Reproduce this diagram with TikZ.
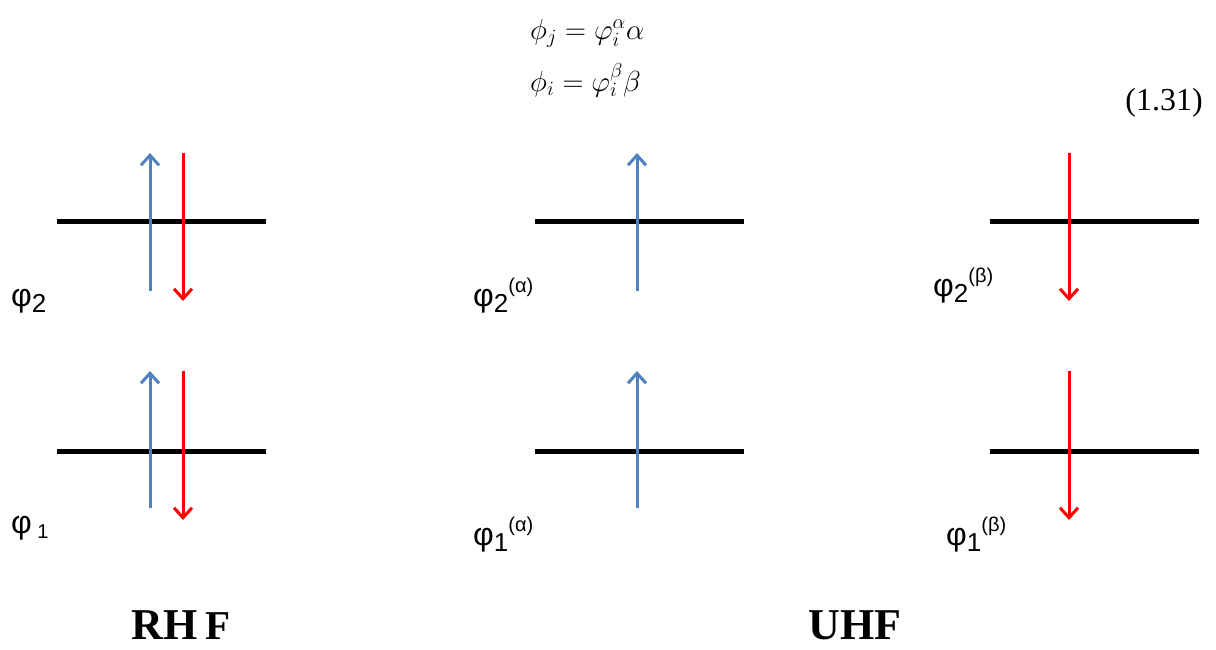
\documentclass[tikz,border=0pt]{standalone}
\usepackage{fontspec}
\usepackage{graphicx}
\setmainfont{Liberation Serif}
\newfontfamily\arialf{Liberation Sans}
\usetikzlibrary{arrows.meta}
\definecolor{spinblue}{RGB}{79,129,189}
\definecolor{spinred}{RGB}{255,0,0}
\tikzset{
  level/.style={line width=5pt, black},
  upspin/.style={line width=3pt, spinblue, -{Straight Barb[length=10pt,width=18pt]}},
  downspin/.style={line width=3pt, spinred, -{Straight Barb[length=10pt,width=18pt]}},
  orblab/.style={anchor=base west, inner sep=0pt, font=\arialf\fontsize{32}{34}\selectfont},
  eqn/.style={anchor=base west, inner sep=0pt, font=\fontsize{20}{22}\selectfont},
  title/.style={inner sep=0pt, font=\bfseries\fontsize{44}{46}\selectfont}
}
\newcommand{\lowsub}[1]{\raisebox{-6pt}{\fontsize{26}{28}\selectfont #1}}
\newcommand{\highsup}[1]{\raisebox{14pt}{\fontsize{20}{22}\selectfont #1}}
\begin{document}
\begin{tikzpicture}[x=1pt,y=-1pt]
\useasboundingbox (0,0) rectangle (1216,649);
% equations
\node[eqn] (e1) at (530,39) {\scalebox{1.4}{$\phi_j = \varphi_i^{\alpha}\alpha$}};
\node[eqn] (e2) at (530,91) {\scalebox{1.4}{$\phi_i = \varphi_i^{\beta}\beta$}};
\node[eqn, anchor=base east] (eqnum) at (1203,110) {\fontsize{32}{34}\selectfont(1.31)};
% RHF levels
\draw[level] (57,221) -- (266,221);
\draw[level] (57,451) -- (266,451);
\draw[upspin] (150,291) -- (150,153);
\draw[downspin] (183,153) -- (183,301);
\draw[upspin] (150,508) -- (150,371);
\draw[downspin] (183,371) -- (183,520);
% UHF alpha
\draw[level] (535,221) -- (744,221);
\draw[level] (535,451) -- (744,451);
\draw[upspin] (637,291) -- (637,153);
\draw[upspin] (637,508) -- (637,371);
% UHF beta
\draw[level] (990,221) -- (1199,221);
\draw[level] (990,451) -- (1199,451);
\draw[downspin] (1069,153) -- (1069,301);
\draw[downspin] (1069,371) -- (1069,520);
% labels
\node[orblab] (l2) at (11,306) {φ\lowsub{2}};
\node[orblab] (l1) at (11,533) {φ\,\raisebox{-5pt}{\fontsize{20}{22}\selectfont 1}};
\node[orblab] (a2) at (473,306) {φ\lowsub{2}\highsup{(α)}};
\node[orblab] (a1) at (473,545) {φ\lowsub{1}\highsup{(α)}};
\node[orblab] (b2) at (933,296) {φ\lowsub{2}\highsup{(β)}};
\node[orblab] (b1) at (946,545) {φ\lowsub{1}\highsup{(β)}};
% titles
\node[title] (rhf) at (181,625) {RH\,{\fontsize{41}{43}\selectfont F}};
\node[title] (uhf) at (855,625) {UHF};
\end{tikzpicture}
\end{document}
